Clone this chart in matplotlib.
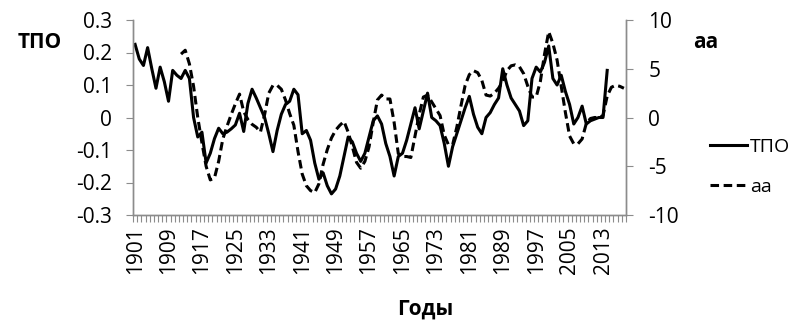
import numpy as np
import matplotlib
matplotlib.use("Agg")
import matplotlib.pyplot as plt
from matplotlib.ticker import FixedLocator, FuncFormatter

# years on the category axis
years_all = list(range(1901, 2019))

# TPO (left axis), 1901..2014
tpo_years = list(range(1901, 2015))
tpo = [0.225, 0.18, 0.16, 0.215, 0.15, 0.09, 0.155, 0.11, 0.05, 0.145,
       0.13, 0.12, 0.145, 0.12, 0.0, -0.06, -0.045, -0.14, -0.11, -0.065,
       -0.033, -0.05, -0.045, -0.035, -0.023, 0.013, -0.043, 0.043, 0.087, 0.06,
       0.03, 0.0, -0.05, -0.105, -0.04, 0.01, 0.04, 0.05, 0.087, 0.07,
       -0.05, -0.04, -0.07, -0.14, -0.19, -0.17, -0.21, -0.235, -0.22, -0.18,
       -0.12, -0.06, -0.075, -0.11, -0.135, -0.11, -0.06, -0.01, 0.005, -0.02,
       -0.08, -0.12, -0.18, -0.12, -0.11, -0.07, -0.02, 0.03, -0.035, 0.02,
       0.075, 0.0, -0.01, -0.025, -0.08, -0.15, -0.09, -0.05, -0.01, 0.03,
       0.065, 0.01, -0.03, -0.05, 0.0, 0.015, 0.04, 0.06, 0.15, 0.1,
       0.06, 0.04, 0.02, -0.025, -0.01, 0.12, 0.155, 0.14, 0.17, 0.22,
       0.12, 0.1, 0.13, 0.08, 0.04, -0.02, 0.0, 0.035, -0.02, -0.01,
       -0.005, 0.0, 0.0, 0.145]

# aa index (right axis), 1912..2018
aa_years = list(range(1912, 2019))
aa = [6.5, 6.9, 5.5, 3.2, 0.0, -2.6, -5.0, -6.4, -6.2, -4.5,
      -2.2, -0.9, 0.3, 1.4, 2.4, 0.6, -0.2, -0.7, -1.0, -1.5,
      0.3, 2.5, 3.3, 3.3, 2.9, 1.8, 0.4, -0.8, -3.5, -5.8,
      -7.0, -7.5, -7.7, -6.8, -4.8, -3.3, -2.1, -1.3, -0.8, -0.4,
      -1.5, -3.0, -4.6, -5.2, -4.5, -3.0, -0.5, 1.8, 2.3, 1.9,
      1.9, -0.5, -3.7, -4.0, -4.0, -4.1, -1.9, 0.3, 2.1, 2.3,
      1.6, 0.9, 0.2, -1.8, -2.8, -2.8, -1.0, 1.2, 3.3, 4.4,
      4.8, 4.6, 3.8, 2.3, 2.2, 2.5, 3.0, 3.7, 4.8, 5.3,
      5.4, 5.2, 4.5, 3.2, 2.1, 2.1, 3.7, 6.5, 8.8, 7.6,
      5.9, 3.2, 0.5, -1.9, -2.7, -2.7, -2.2, -0.6, -0.1, 0.0,
      0.0, 0.2, 2.2, 3.1, 3.3, 3.2, 3.0]

xtick_years = list(range(1901, 2019, 8))
left_ticks = [-0.3, -0.2, -0.1, 0, 0.1, 0.2, 0.3]
right_ticks = [-10, -5, 0, 5, 10]

plt.rcParams['font.family'] = ['Open Sans', 'DejaVu Sans']
axis_grey = '#8c8c8c'
fs = 15

fig = plt.figure(figsize=(8.03, 3.25), dpi=100)
ax = fig.add_axes([133/803, 1-215/325, (626-133)/803, (215-20)/325])
ax2 = ax.twinx()

l1, = ax.plot(tpo_years, tpo, color='black', lw=2.2, solid_joinstyle='round')
l2, = ax2.plot(aa_years, aa, color='black', lw=2.2, linestyle=(0, (2.8, 1.5)))

ax.set_xlim(years_all[0] - 0.5, years_all[-1] + 0.5)
ax.set_ylim(-0.3, 0.3)
ax2.set_ylim(-10, 10)

ax.yaxis.set_major_locator(FixedLocator(left_ticks))
ax.yaxis.set_major_formatter(FuncFormatter(lambda v, p: f"{round(v, 1):g}"))
ax2.yaxis.set_major_locator(FixedLocator(right_ticks))
ax2.yaxis.set_major_formatter(FuncFormatter(lambda v, p: f"{int(round(v))}"))

ax.xaxis.set_major_locator(FixedLocator(xtick_years))
ax.xaxis.set_minor_locator(FixedLocator(np.arange(years_all[0] - 0.5, years_all[-1] + 1, 1)))
ax.tick_params(axis='x', which='major', length=0, labelsize=fs, rotation=90, pad=8)
ax.tick_params(axis='x', which='minor', length=5, color=axis_grey, width=0.8)
ax.tick_params(axis='y', length=5, color=axis_grey, labelsize=fs, pad=10)
ax2.tick_params(axis='y', length=5, color=axis_grey, labelsize=fs, pad=11)

for a in (ax, ax2):
    a.spines['top'].set_visible(False)
    for s in ('left', 'right', 'bottom'):
        a.spines[s].set_color(axis_grey)
        a.spines[s].set_linewidth(1.0)

fig.text(18/803, 1-42/325, 'ТПО', fontsize=fs, fontweight='bold', va='center', ha='left')
fig.text(693/803, 1-43/325, 'aa', fontsize=fs, fontweight='bold', va='center', ha='left')
fig.text(425/803, 1-309/325, 'Годы', fontsize=fs, fontweight='bold', va='center', ha='center')

fig.legend([l1, l2], ['ТПО', 'aa'], loc='upper left',
           bbox_to_anchor=(706/803, 1-134/325), frameon=False, fontsize=14,
           handlelength=1.9, handletextpad=0.15, labelspacing=1.15,
           borderpad=0.2, borderaxespad=0.0)

fig.savefig('out.png', dpi=100)
